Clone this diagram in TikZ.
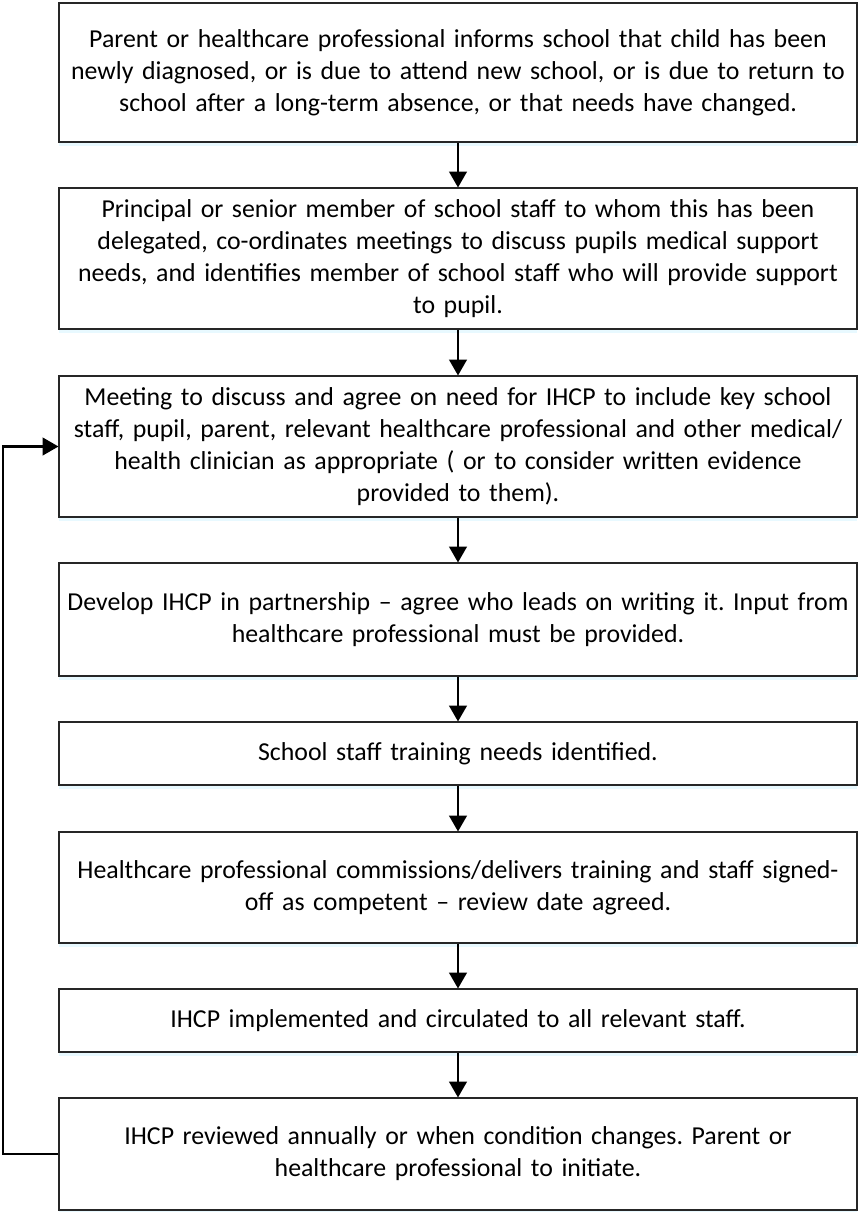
\documentclass[tikz,border=0pt]{standalone}
\usepackage{fontspec}
\setmainfont{Carlito}
\usetikzlibrary{arrows.meta,positioning,shadows}
\newcommand\boxfont{\fontsize{14.7}{18.2}\selectfont\frenchspacing\spaceskip=0.2em plus 0.05em minus 0.05em\relax}

\begin{document}
\begin{tikzpicture}[thick,
  step box/.style={rectangle,draw=black!85,line width=0.6pt,fill=white,
    minimum width=15.96cm,text width=15.9cm,align=center,inner sep=0pt,
    font=\boxfont,
    drop shadow={shadow xshift=0pt,shadow yshift=-2.5pt,fill=blue!25!cyan!20,opacity=.45}},
  flow/.style={line width=1.3pt,-{Triangle[length=9pt,width=10pt]}}]
\useasboundingbox (0,0) rectangle (17.16,-24.24);
\begin{scope}
\node[step box,minimum height=2.78cm] (s1) at (9.16,-1.45) {Parent or healthcare professional informs school that child has been\\ newly diagnosed, or is due to attend new school, or is due to return to\\ school after a long-term absence, or that needs have changed.};
\node[step box,minimum height=2.82cm] (s2) at (9.16,-5.17) {Principal or senior member of school staff to whom this has been\\ delegated, co-ordinates meetings to discuss pupils medical support\\ needs, and identifies member of school staff who will provide support\\ to pupil.};
\node[step box,minimum height=2.82cm] (s3) at (9.16,-8.93) {Meeting to discuss and agree on need for IHCP to include key school\\ staff, pupil, parent, relevant healthcare professional and other medical/\\ health clinician as appropriate ( or to consider written evidence\\ provided to them).};
\node[step box,minimum height=2.26cm] (s4) at (9.16,-12.39) {Develop IHCP in partnership -- agree who leads on writing it. Input from\\ healthcare professional must be provided.};
\node[step box,minimum height=1.26cm] (s5) at (9.16,-15.07) {School staff training needs identified.};
\node[step box,minimum height=2.22cm] (s6) at (9.16,-17.75) {Healthcare professional commissions/delivers training and staff signed-\\ off as competent -- review date agreed.};
\node[step box,minimum height=1.26cm] (s7) at (9.16,-20.41) {IHCP implemented and circulated to all relevant staff.};
\node[step box,minimum height=2.24cm] (s8) at (9.16,-23.08) {IHCP reviewed annually or when condition changes. Parent or\\ healthcare professional to initiate.};
\end{scope}
\coordinate (loopfoot) at (0.06,-23.08);
\coordinate (looptop) at (0.06,-8.93);
\begin{scope}[every edge/.style={draw,flow}]
\draw (s1) edge (s2);
\draw (s2) edge (s3);
\draw (s3) edge (s4);
\draw (s4) edge (s5);
\draw (s5) edge (s6);
\draw (s6) edge (s7);
\draw (s7) edge (s8);
\end{scope}
\draw[flow] (s8.west) -- (loopfoot) -- (looptop) -- (s3.west);
\end{tikzpicture}
\end{document}
